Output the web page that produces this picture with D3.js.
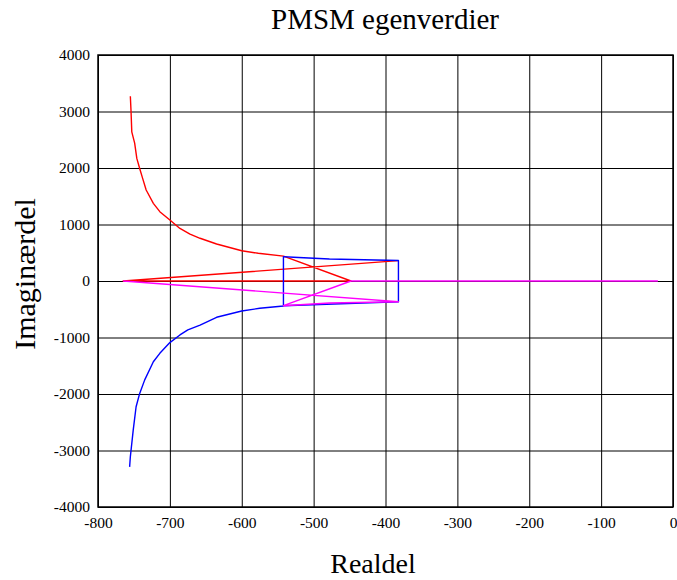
<!DOCTYPE html>
<html>
<head>
<meta charset="utf-8">
<script src="https://cdn.jsdelivr.net/npm/d3@7"></script>
<style>
  body { margin: 0; background: #fff; }
  svg text { font-family: "Liberation Serif", "Times New Roman", "DejaVu Serif", serif; }
</style>
</head>
<body>
<div id="chart"></div>
<script>
var redRe = [-755, -754, -753, -749, -746, -742, -738, -733, -723, -714, -700, -686, -672, -658, -635, -600, -577, -542, -448, -765, -382];
var redIm = [3270, 2990, 2640, 2440, 2170, 1990, 1820, 1610, 1375, 1227, 1080, 930, 830, 756, 655, 536, 490, 440, 0, 0, 360];

var blueRe = [-756, -755, -751, -747, -742, -735, -723, -714, -700, -686, -675, -658, -635, -600, -575, -542, -542, -528, -478, -382, -382, -542];
var blueIm = [-3290, -3110, -2640, -2225, -1990, -1750, -1430, -1280, -1090, -955, -865, -780, -642, -531, -483, -442, 432, 420, 390, 362, -366, -437];

var magRe = [-21, -448, -542, -478, -382, -765];
var magIm = [0, 0, -437, -390, -366, 0];

var xTicks = [-800, -700, -600, -500, -400, -300, -200, -100, 0];
var yTicks = [-4000, -3000, -2000, -1000, 0, 1000, 2000, 3000, 4000];

function draw() {
    var width = 677, height = 580;
    var mLeft = 98, mRight = 673, mTop = 55, mBottom = 507;

    var x = d3.scaleLinear().domain([-800, 0]).range([mLeft, mRight]);
    var y = d3.scaleLinear().domain([-4000, 4000]).range([mBottom, mTop]);

    var svg = d3.select("#chart").append("svg")
        .attr("width", width)
        .attr("height", height)
        .style("display", "block");

    // grid + tick labels
    svg.append("g")
        .attr("transform", `translate(0,${mBottom})`)
        .call(d3.axisBottom(x).tickValues(xTicks).tickSize(-(mBottom - mTop)).tickFormat(d => d))
        .call(g => g.attr("font-family", null).attr("font-size", null))
        .call(g => g.select(".domain").remove())
        .call(g => g.selectAll("line").attr("stroke", "#000").attr("stroke-width", 1))
        .call(g => g.selectAll("text").attr("fill", "#000").attr("y", 10).attr("dy", "0.71em")
            .style("font-size", "15.5px"));

    svg.append("g")
        .attr("transform", `translate(${mLeft},0)`)
        .call(d3.axisLeft(y).tickValues(yTicks).tickSize(-(mRight - mLeft)).tickFormat(d => d))
        .call(g => g.attr("font-family", null).attr("font-size", null))
        .call(g => g.select(".domain").remove())
        .call(g => g.selectAll("line").attr("stroke", "#000").attr("stroke-width", 1))
        .call(g => g.selectAll("text").attr("fill", "#000").attr("x", -8)
            .style("font-size", "15.5px"));

    var line = d3.line().x(d => x(d[0])).y(d => y(d[1]));

    function trace(re, im, color) {
        svg.append("path")
            .datum(d3.zip(re, im))
            .attr("fill", "none")
            .attr("stroke", color)
            .attr("stroke-width", 1.4)
            .attr("stroke-linejoin", "round")
            .attr("d", line);
    }

    trace(redRe, redIm, "#ff0000");
    trace(blueRe, blueIm, "#0000ff");
    trace(magRe, magIm, "#ff00ff");

    // frame
    svg.append("rect")
        .attr("x", mLeft).attr("y", mTop)
        .attr("width", mRight - mLeft).attr("height", mBottom - mTop)
        .attr("fill", "none").attr("stroke", "#000").attr("stroke-width", 1.5);

    svg.append("text")
        .attr("x", 385).attr("y", 29)
        .attr("text-anchor", "middle")
        .style("font-size", "29px")
        .text("PMSM egenverdier");

    svg.append("text")
        .attr("x", 373).attr("y", 573)
        .attr("text-anchor", "middle")
        .style("font-size", "28px")
        .text("Realdel");

    svg.append("text")
        .attr("transform", "translate(35,274) rotate(-90)")
        .attr("text-anchor", "middle")
        .style("font-size", "30px")
        .text("Imaginærdel");
}

draw();
</script>
</body>
</html>
